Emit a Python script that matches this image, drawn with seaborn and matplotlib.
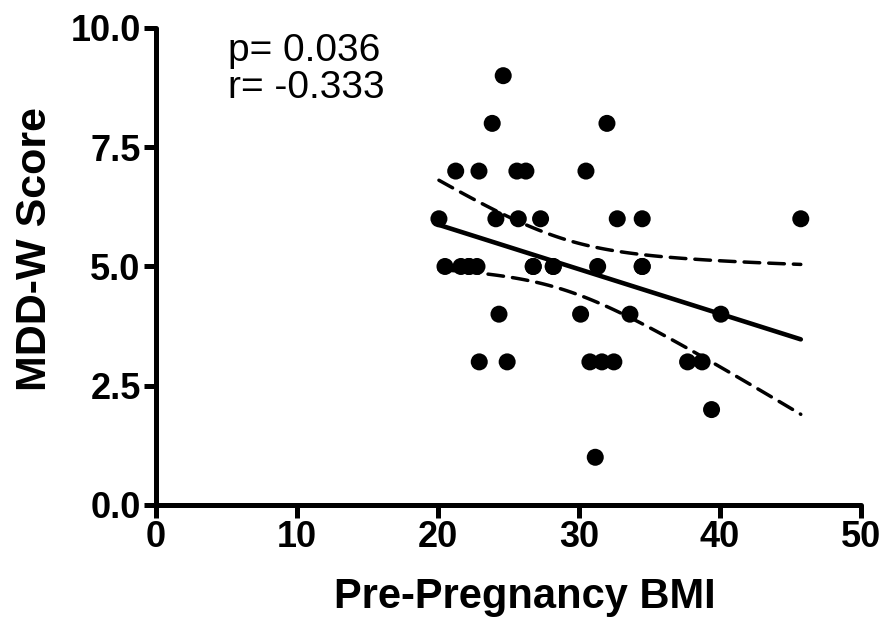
import numpy as np
import pandas as pd
import matplotlib
matplotlib.use("Agg")
import matplotlib.pyplot as plt
import seaborn as sns

# values (last four rows: points hidden
# under visible ones, the stats in the figure imply n of about 40)
bmi = [24.63, 23.85, 31.99,
       21.26, 22.91, 25.60, 26.24, 30.50,
       20.07, 24.11, 25.70, 27.28, 32.72, 34.49, 45.74,
       20.50, 21.63, 22.20, 22.77, 26.76, 28.18, 31.33, 34.49,
       24.33, 30.12, 33.62, 40.07,
       22.93, 24.91, 30.78, 31.63, 32.48, 37.71, 38.74,
       39.41, 31.16,
       22.20, 26.76, 28.18, 34.49]
mdd = [9, 8, 8,
       7, 7, 7, 7, 7,
       6, 6, 6, 6, 6, 6, 6,
       5, 5, 5, 5, 5, 5, 5, 5,
       4, 4, 4, 4,
       3, 3, 3, 3, 3, 3, 3,
       2, 1,
       5, 5, 5, 5]
x_ticks = [0, 10, 20, 30, 40, 50]
y_ticks = [0.0, 2.5, 5.0, 7.5, 10.0]
stats_text = "p= 0.036\nr= -0.333"

df = pd.DataFrame({"BMI": bmi, "MDD": mdd})

sns.set_theme(style="ticks")
plt.rcParams["font.family"] = ["Liberation Sans", "DejaVu Sans"]
plt.rcParams["text.color"] = "black"
plt.rcParams["axes.labelcolor"] = "black"

fig = plt.figure(figsize=(8.82, 6.19), dpi=100)
ax = fig.add_axes([0.1769, 0.1842, 0.7991, 0.7706])

sns.scatterplot(data=df, x="BMI", y="MDD", ax=ax, s=150, color="black",
                edgecolor="none", zorder=3, clip_on=False)
sns.regplot(data=df, x="BMI", y="MDD", ax=ax, scatter=False, ci=None,
            color="black", line_kws={"lw": 3.3, "solid_capstyle": "round"},
            truncate=True)

# 95% confidence band of the fit, drawn as dashed lines
x = df["BMI"].to_numpy()
y = df["MDD"].to_numpy()
n = len(x)
slope, intercept = np.polyfit(x, y, 1)
resid = y - (slope * x + intercept)
s_err = np.sqrt(np.sum(resid ** 2) / (n - 2))
sxx = np.sum((x - x.mean()) ** 2)
xs = np.linspace(x.min(), x.max(), 100)
fit = slope * xs + intercept
t_crit = 2.024  # t(0.975, 38 df)
half = t_crit * s_err * np.sqrt(1 / n + (xs - x.mean()) ** 2 / sxx)
for band in (fit + half, fit - half):
    ax.plot(xs, band, color="black", lw=2.5, dashes=(4.5, 2.6),
            dash_capstyle="round")

ax.set_xlim(0, 50)
ax.set_ylim(0, 10)
ax.set_xticks(x_ticks)
ax.set_yticks(y_ticks)
ax.set_yticklabels([f"{v:.1f}" for v in y_ticks])
sns.despine(ax=ax)
for side in ("left", "bottom"):
    ax.spines[side].set_linewidth(3.6)
    ax.spines[side].set_color("black")
    ax.spines[side].set_capstyle("round")
ax.tick_params(axis="both", length=9, width=3.6, color="black", pad=2,
               labelsize=26, labelcolor="black")
for lab in ax.get_xticklabels() + ax.get_yticklabels():
    lab.set_fontweight("bold")

ax.set_xlabel("Pre-Pregnancy BMI", fontsize=30, fontweight="bold")
ax.set_ylabel("MDD-W Score", fontsize=31, fontweight="bold")
ax.xaxis.set_label_coords(0.523, -0.152)
ax.yaxis.set_label_coords(-0.143, 0.537)

ax.text(0.102, 0.99, stats_text, transform=ax.transAxes, fontsize=28,
        va="top", ha="left", linespacing=1.05)

fig.savefig("out.png", dpi=100)
